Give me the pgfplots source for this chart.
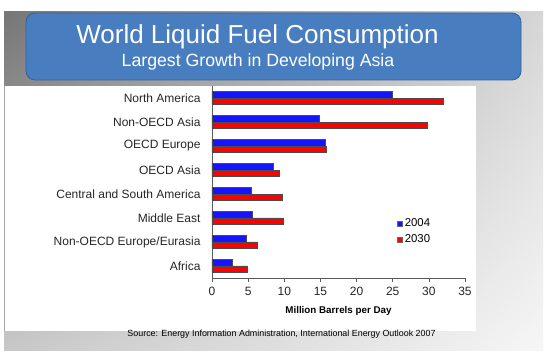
\documentclass[border=0pt]{standalone}
\usepackage{pgfplots}
\pgfplotsset{compat=1.18}
\usetikzlibrary{shadings}
\usepackage{fontspec}
\setmainfont{Liberation Sans}
\definecolor{titleblue}{RGB}{72,126,192}
\definecolor{titleedge}{RGB}{52,96,160}
\definecolor{barblue}{RGB}{20,20,255}
\definecolor{barred}{RGB}{255,0,0}
\definecolor{axgray}{RGB}{90,90,90}
\definecolor{bgul}{RGB}{118,118,118}
\definecolor{bgur}{RGB}{214,214,214}
\definecolor{bgll}{RGB}{200,200,200}
\definecolor{bglr}{RGB}{246,246,246}
\begin{document}
\begin{tikzpicture}[x=1pt,y=1pt]
% page
\fill[white] (0,0) rectangle (555,364);
% slide background gradient
\shade[upper left=bgul, upper right=bgur, lower left=bgll, lower right=bglr]
  (4,13) rectangle (543,352);
% white panel
\fill[white] (4,33) rectangle (476,278);
\draw[gray!70, line width=0.6pt] (4.3,33) -- (4.3,278);
% title box
\draw[fill=titleblue, draw=titleedge, line width=0.8pt, rounded corners=9pt] (26,284) rectangle (521,351);
\node[anchor=base, text=white, font=\fontsize{26}{29}\selectfont, inner sep=0pt] at (257.5,320) {World Liquid Fuel Consumption};
\node[anchor=base, text=white, font=\fontsize{17.7}{20}\selectfont, inner sep=0pt] at (258,297) {Largest Growth in Developing Asia};
% source
\node[anchor=center, font=\fontsize{8.9}{10}\selectfont, inner sep=0pt] at (281.5,30) {Source: Energy Information Administration, International Energy Outlook 2007};
\begin{axis}[
  at={(212pt,86pt)}, anchor=south west,
  scale only axis, width=253pt, height=192pt,
  xmin=0, xmax=35, ymin=0.5, ymax=8.5,
  xbar, bar width=6.7pt,
  axis x line*=bottom, axis y line*=left,
  axis line style={axgray, line width=0.8pt},
  xtick={0,5,...,35},
  ytick={1,...,8},
  yticklabels={Africa,Non-OECD Europe/Eurasia,Middle East,Central and South America,OECD Asia,OECD Europe,Non-OECD Asia,North America},
  minor ytick={0.5,1.5,...,8.5},
  tick align=outside,
  major tick length=4pt, minor tick length=4pt,
  ytick style={draw=none},
  minor tick style={axgray, line width=0.6pt},
  xtick style={axgray, line width=0.6pt},
  tick label style={font=\fontsize{12}{13}\selectfont, text=black!85},
  /pgf/number format/assume math mode=true,
  yticklabel style={xshift=-4pt},
  xticklabel style={yshift=-2pt},
  xlabel={\bfseries Million Barrels per Day},
  xlabel style={font=\fontsize{9.8}{11}\selectfont, yshift=-4pt},
  legend style={at={(rel axis cs:0.73,0.32)}, anchor=north west, draw=none, fill=none,
     font=\fontsize{11.4}{13}\selectfont, row sep=2.5pt, inner sep=0pt},
  legend cell align=left,
  legend image code/.code={\draw[#1, draw=black!60, line width=0.4pt] (0pt,-2.7pt) rectangle (5.5pt,2.7pt);},
  clip=false,
]
\addplot[fill=barblue, draw=black!70, line width=0.5pt, bar shift=3.35pt] coordinates {
(2.8,1) (4.8,2) (5.6,3) (5.4,4) (8.5,5) (15.6,6) (14.9,7) (25.0,8)};
\addplot[fill=barred, draw=black!70, line width=0.5pt, bar shift=-3.35pt] coordinates {
(4.9,1) (6.2,2) (9.8,3) (9.7,4) (9.3,5) (15.8,6) (29.8,7) (32.0,8)};
\legend{2004,2030}
\end{axis}
\end{tikzpicture}
\end{document}
